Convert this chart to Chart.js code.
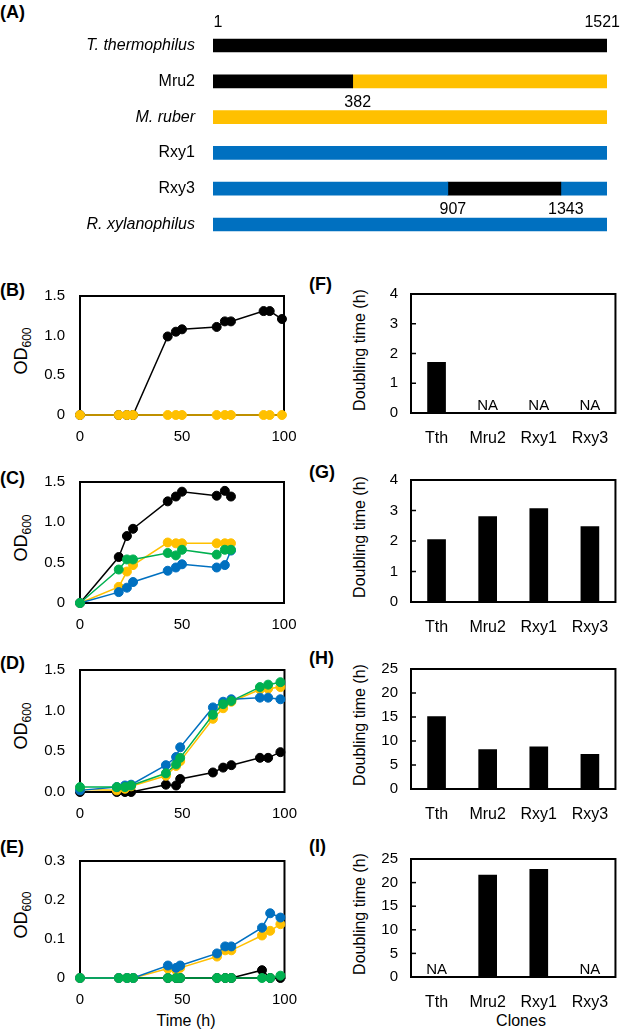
<!DOCTYPE html>
<html>
<head>
<meta charset="utf-8">
<script src="https://cdn.jsdelivr.net/npm/chart.js@4.4.0/dist/chart.umd.min.js"></script>
<style>
  body { margin: 0; background: #fff; width: 625px; height: 1030px; position: relative; overflow: hidden;
         font-family: 'Liberation Sans', Arial, sans-serif; color: #000; }
  canvas { position: absolute; }
  .tag { position: absolute; font-weight: bold; font-size: 18px; line-height: 20px; }
  .rot { position: absolute; transform: translate(-50%, -50%) rotate(-90deg); white-space: nowrap; font-size: 16px; line-height: 18px; }
  .ttl { position: absolute; transform: translate(-50%, -50%); white-space: nowrap; font-size: 16px; }
</style>
</head>
<body>
<div class="tag" style="left:0;top:2px">(A)</div>
<div class="tag" style="left:0;top:280px">(B)</div>
<div class="tag" style="left:0;top:468px">(C)</div>
<div class="tag" style="left:0;top:653px">(D)</div>
<div class="tag" style="left:0;top:837px">(E)</div>
<div class="tag" style="left:309px;top:274px">(F)</div>
<div class="tag" style="left:309px;top:462px">(G)</div>
<div class="tag" style="left:309px;top:648px">(H)</div>
<div class="tag" style="left:309px;top:836px">(I)</div>

<div class="rot" style="left:24px;top:351px;font-size:18px">OD<sub style="font-size:12px">600</sub></div>
<div class="rot" style="left:24px;top:538px;font-size:18px">OD<sub style="font-size:12px">600</sub></div>
<div class="rot" style="left:24px;top:726px;font-size:18px">OD<sub style="font-size:12px">600</sub></div>
<div class="rot" style="left:24px;top:915px;font-size:18px">OD<sub style="font-size:12px">600</sub></div>
<div class="rot" style="left:360px;top:350px">Doubling time (h)</div>
<div class="rot" style="left:360px;top:537px">Doubling time (h)</div>
<div class="rot" style="left:360px;top:725px">Doubling time (h)</div>
<div class="rot" style="left:360px;top:914px">Doubling time (h)</div>
<div class="ttl" style="left:186px;top:1021px">Time (h)</div>
<div class="ttl" style="left:521px;top:1021px">Clones</div>

<script>
// ---- panel A: 16S constructs ----
var rows = ['T. thermophilus', 'Mru2', 'M. ruber', 'Rxy1', 'Rxy3', 'R. xylanophilus'];
var rowItalic = [true, false, true, false, false, true];
// segments [start, end] and which organism they come from (Mru2 split drawn at ~540, labelled 382)
var segFirst = [[1, 1521], [1, 540], [1, 1521], [1, 1521], [1, 907], [1, 1521]];
var segFirstFrom = ['Tth', 'Tth', 'Mru', 'Rxy', 'Rxy', 'Rxy'];
var segSecond = [null, [540, 1521], null, null, [907, 1343], null];
var segSecondFrom = [null, 'Mru', null, null, 'Tth', null];
var segThird = [null, null, null, null, [1343, 1521], null];
var segThirdFrom = [null, null, null, null, 'Rxy', null];
var siteLabels = ['1', '1521', '382', '907', '1343'];
var siteValues = [1, 1521, 540, 907, 1343];
var siteRows = [0, 0, 1, 4, 4];

// ---- growth curves (B-E), OD600 ----
var hours = [0, 19, 23, 26, 43, 47, 50, 67, 71, 74, 90, 93, 99];
var hoursC = [0, 19, 23, 26, 43, 47, 50, 67, 71, 74];
var hoursD = [0, 18, 22, 25, 42, 47, 49, 65, 70, 74, 88, 92, 98];
var hoursE = [0, 19, 23, 26, 43, 47, 49, 67, 71, 74, 89, 93, 98];

var bTth = [0, 0, 0, 0, 0.99, 1.05, 1.08, 1.11, 1.18, 1.18, 1.31, 1.31, 1.21];
var bMru2 = [0, 0, 0, 0, 0, 0, 0, 0, 0, 0, 0, 0, 0];

var cTth = [0, 0.57, 0.83, 0.92, 1.26, 1.32, 1.38, 1.33, 1.39, 1.32];
var cMru2 = [0, 0.20, 0.39, 0.47, 0.75, 0.74, 0.74, 0.74, 0.74, 0.74];
var cRxy1 = [0, 0.135, 0.19, 0.26, 0.40, 0.44, 0.48, 0.44, 0.47, 0.65];
var cRxy3 = [0, 0.415, 0.54, 0.54, 0.62, 0.59, 0.66, 0.60, 0.66, 0.66];

var dTth = [0, 0, 0, 0, 0.09, 0.08, 0.16, 0.24, 0.30, 0.33, 0.42, 0.42, 0.49];
var dMru2 = [0.03, 0.02, 0.04, 0.07, 0.20, 0.32, 0.38, 0.90, 1.03, 1.11, 1.26, 1.27, 1.29];
var dRxy1 = [0.02, 0.06, 0.08, 0.09, 0.33, 0.43, 0.55, 1.04, 1.11, 1.14, 1.16, 1.16, 1.14];
var dRxy3 = [0.06, 0.06, 0.06, 0.08, 0.23, 0.34, 0.42, 0.95, 1.08, 1.12, 1.29, 1.32, 1.35];

var eTth = [0, 0, 0, 0, 0, 0, 0, 0, 0, 0, 0.02, 0, 0];
var eMru2 = [0, 0, 0, 0, 0.024, 0.02, 0.026, 0.055, 0.071, 0.071, 0.109, 0.121, 0.138];
var eRxy1 = [0, 0, 0, 0, 0.032, 0.026, 0.032, 0.063, 0.081, 0.081, 0.129, 0.166, 0.155];
var eRxy3 = [0, 0, 0, 0, 0, 0, 0, 0, 0, 0, 0, 0, 0.006];

// ---- doubling times (F-I), null = NA ----
var clones = ['Tth', 'Mru2', 'Rxy1', 'Rxy3'];
var fDoubling = [1.7, null, null, null];
var gDoubling = [2.05, 2.8, 3.06, 2.47];
var hDoubling = [15.1, 8.2, 8.8, 7.2];
var iDoubling = [null, 21.6, 22.8, null];

var colors = { Tth: '#000000', Mru: '#FFC000', Rxy: '#0070C0', green: '#00B050' };
var FONT = "'Liberation Sans', Arial, sans-serif";
Chart.defaults.font.family = FONT;
Chart.defaults.color = '#000';

function makeCanvas(x, y, w, h) {
  var c = document.createElement('canvas');
  c.width = w; c.height = h;
  c.style.left = x + 'px'; c.style.top = y + 'px';
  c.style.width = w + 'px'; c.style.height = h + 'px';
  document.body.appendChild(c);
  return c.getContext('2d');
}
function fixWidth(w) { return function (s) { s.width = w; }; }
function fixHeight(h) { return function (s) { s.height = h; }; }

var framePlugin = {
  id: 'frame',
  beforeDatasetsDraw: function (chart, args, opts) {
    var a = chart.chartArea, ctx = chart.ctx;
    ctx.save();
    ctx.strokeStyle = '#000';
    ctx.lineWidth = 2;
    ctx.strokeRect(a.left, a.top, a.right - a.left, a.bottom - a.top);
    if (opts.innerTicks) {
      var ys = chart.scales.y;
      ctx.lineWidth = 1.5;
      ys.ticks.forEach(function (t) {
        var py = ys.getPixelForValue(t.value);
        ctx.beginPath(); ctx.moveTo(a.left, py); ctx.lineTo(a.left + 5, py); ctx.stroke();
      });
    }
    ctx.restore();
  }
};

var naPlugin = {
  id: 'na',
  afterDatasetsDraw: function (chart) {
    var vals = chart.data.datasets[0].data, xs = chart.scales.x, ctx = chart.ctx;
    ctx.save();
    ctx.font = '15px ' + FONT;
    ctx.fillStyle = '#000';
    ctx.textAlign = 'center';
    vals.forEach(function (v, i) {
      if (v === null) ctx.fillText('NA', xs.getPixelForValue(i), chart.chartArea.bottom - 3);
    });
    ctx.restore();
  }
};

var sitePlugin = {
  id: 'sites',
  afterDatasetsDraw: function (chart) {
    var xs = chart.scales.x, ys = chart.scales.y, ctx = chart.ctx;
    ctx.save();
    ctx.font = '16px ' + FONT;
    ctx.fillStyle = '#000';
    ctx.textAlign = 'center';
    ctx.textBaseline = 'middle';
    siteLabels.forEach(function (s, i) {
      var half = ctx.measureText(s).width / 2;
      var px = Math.min(xs.getPixelForValue(siteValues[i]) + 5, chart.width - half - 5);
      var py = ys.getPixelForValue(siteRows[i]) + (siteRows[i] === 0 ? -23 : 21);
      ctx.fillText(s, px, py);
    });
    ctx.restore();
  }
};

// ---- panel A ----
function segColors(from) { return from.map(function (f) { return f ? colors[f] : 'rgba(0,0,0,0)'; }); }
function segSet(data, from) {
  return { data: data, backgroundColor: segColors(from), borderWidth: 0, barThickness: 13, grouped: false };
}
new Chart(makeCanvas(0, 0, 625, 270), {
  type: 'bar',
  data: {
    labels: rows,
    datasets: [segSet(segFirst, segFirstFrom), segSet(segSecond, segSecondFrom), segSet(segThird, segThirdFrom)]
  },
  options: {
    indexAxis: 'y', responsive: false, animation: false, devicePixelRatio: 1,
    layout: { padding: { left: 23, top: 11, right: 18, bottom: 9 } },
    plugins: { legend: { display: false }, tooltip: { enabled: false } },
    scales: {
      x: { display: false, min: 1, max: 1521 },
      y: {
        grid: { display: false, drawTicks: false }, border: { display: false },
        ticks: {
          padding: 18, color: '#000',
          font: function (c) { return { size: 16, style: rowItalic[c.index] ? 'italic' : 'normal' }; }
        },
        afterFit: fixWidth(190)
      }
    }
  },
  plugins: [sitePlugin]
});

// ---- growth curve panels ----
function series(hrs, vals, color, order) {
  return {
    data: hrs.map(function (h, i) { return { x: h, y: vals[i] }; }),
    borderColor: color, backgroundColor: color,
    pointBackgroundColor: color, pointBorderColor: color,
    borderWidth: 1.5, pointRadius: 4.5, pointBorderWidth: 1,
    order: order, clip: false, tension: 0
  };
}
function growthChart(area, sets, yMax, yStep, fmt) {
  var bx = 0, bw = 310, by = area.top - 15, bh = area.bottom - area.top + 60;
  var yTicks = { stepSize: yStep, padding: 15, font: { size: 15 }, color: '#000' };
  if (fmt) yTicks.callback = fmt;
  new Chart(makeCanvas(bx, by, bw, bh), {
    type: 'line',
    data: { datasets: sets },
    options: {
      responsive: false, animation: false, devicePixelRatio: 1,
      layout: { padding: { left: area.left - bx - 60, top: 15, right: bx + bw - area.right, bottom: 5 } },
      plugins: { legend: { display: false }, tooltip: { enabled: false }, frame: {} },
      scales: {
        x: {
          type: 'linear', min: 0, max: 100,
          grid: { display: false, drawTicks: false }, border: { display: false },
          ticks: { stepSize: 50, padding: 13, font: { size: 15 }, color: '#000' },
          afterFit: fixHeight(40)
        },
        y: {
          min: 0, max: yMax,
          grid: { display: false, drawTicks: false }, border: { display: false },
          ticks: yTicks,
          afterFit: fixWidth(60)
        }
      }
    },
    plugins: [framePlugin]
  });
}

growthChart({ left: 80, right: 284, top: 287, bottom: 415 }, [
  series(hours, bTth, colors.Tth, 3),
  series(hours, bMru2, colors.Mru, 2)
], 1.5, 0.5);

growthChart({ left: 80, right: 284, top: 473, bottom: 603 }, [
  series(hoursC, cTth, colors.Tth, 3),
  series(hoursC, cMru2, colors.Mru, 2),
  series(hoursC, cRxy1, colors.Rxy, 1),
  series(hoursC, cRxy3, colors.green, 0)
], 1.5, 0.5);

growthChart({ left: 80, right: 292, top: 661, bottom: 792 }, [
  series(hoursD, dTth, colors.Tth, 3),
  series(hoursD, dMru2, colors.Mru, 2),
  series(hoursD, dRxy1, colors.Rxy, 1),
  series(hoursD, dRxy3, colors.green, 0)
], 1.5, 0.5, function (v) { return v.toFixed(1); });

growthChart({ left: 80, right: 290, top: 852, bottom: 978 }, [
  series(hoursE, eTth, colors.Tth, 3),
  series(hoursE, eMru2, colors.Mru, 2),
  series(hoursE, eRxy1, colors.Rxy, 1),
  series(hoursE, eRxy3, colors.green, 0)
], 0.3, 0.1);

// ---- doubling time panels ----
function doublingChart(area, vals, yMax, yStep) {
  var bx = 310, bw = 315, by = area.top - 15, bh = area.bottom - area.top + 60;
  new Chart(makeCanvas(bx, by, bw, bh), {
    type: 'bar',
    data: { labels: clones, datasets: [{ data: vals, backgroundColor: '#000', borderWidth: 0, barThickness: 18 }] },
    options: {
      responsive: false, animation: false, devicePixelRatio: 1,
      layout: { padding: { left: area.left - bx - 60, top: 15, right: bx + bw - area.right, bottom: 5 } },
      plugins: { legend: { display: false }, tooltip: { enabled: false }, frame: { innerTicks: true } },
      scales: {
        x: {
          grid: { display: false, drawTicks: false }, border: { display: false },
          ticks: { padding: 16, font: { size: 16 }, color: '#000' },
          afterFit: fixHeight(40)
        },
        y: {
          min: 0, max: yMax,
          grid: { display: false, drawTicks: false }, border: { display: false },
          ticks: { stepSize: yStep, padding: 13, font: { size: 15 }, color: '#000' },
          afterFit: fixWidth(60)
        }
      }
    },
    plugins: [framePlugin, naPlugin]
  });
}

doublingChart({ left: 411, right: 618, top: 287, bottom: 413 }, fDoubling, 4, 1);
doublingChart({ left: 411, right: 618, top: 473, bottom: 602 }, gDoubling, 4, 1);
doublingChart({ left: 411, right: 618, top: 662, bottom: 789 }, hDoubling, 25, 5);
doublingChart({ left: 411, right: 618, top: 852, bottom: 977 }, iDoubling, 25, 5);
</script>
</body>
</html>
